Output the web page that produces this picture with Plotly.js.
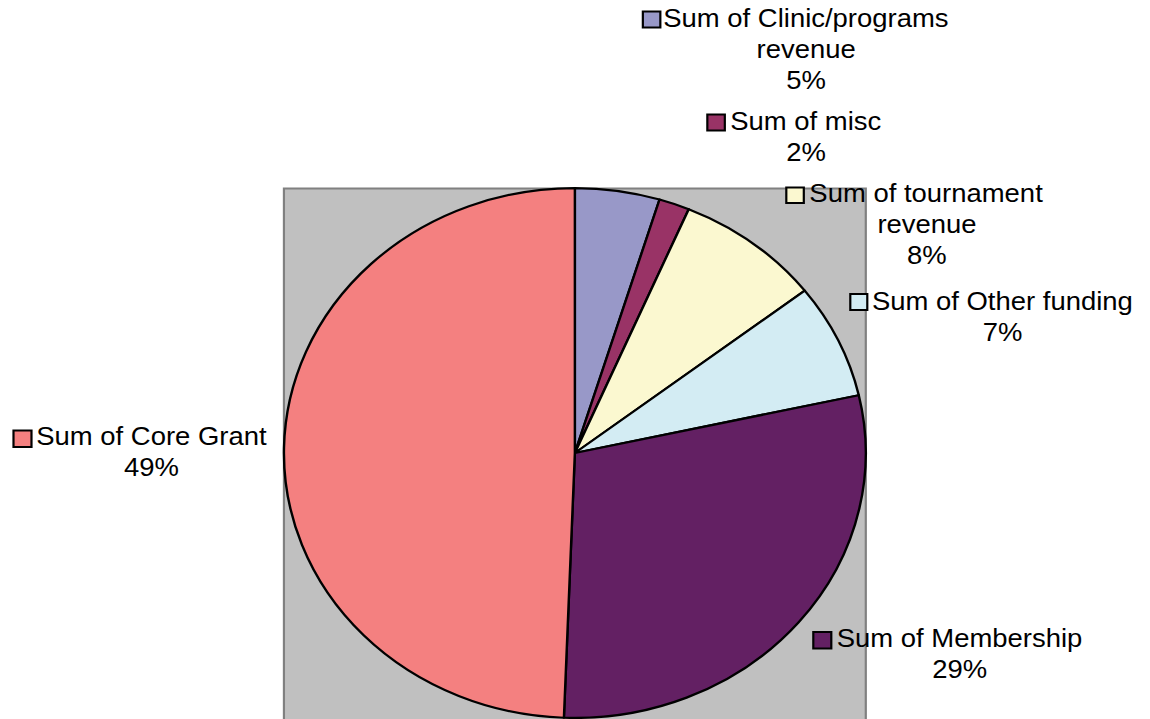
<!DOCTYPE html>
<html>
<head>
<meta charset="utf-8">
<script src="https://cdn.plot.ly/plotly-3.0.1.min.js"></script>
<style>
  html, body { margin: 0; padding: 0; background: #ffffff; overflow: hidden; }
  #wrap { width: 1150px; height: 719px; overflow: hidden; position: relative; }
  #chart { position: absolute; left: 0; top: 0; transform-origin: 0 0; }
</style>
</head>
<body>
<div id="wrap"><div id="chart"></div></div>
<script>
// ---- data (clockwise from 12 o'clock) ----
const categories = [
  "Sum of Clinic/programs revenue",
  "Sum of misc",
  "Sum of tournament revenue",
  "Sum of Other funding",
  "Sum of Membership",
  "Sum of Core Grant"
];
const shares = [4.7, 1.7, 8.1, 7.0, 29.1, 49.4];
const labelLines = [
  ["Sum of Clinic/programs", "revenue"],
  ["Sum of misc"],
  ["Sum of tournament", "revenue"],
  ["Sum of Other funding"],
  ["Sum of Membership"],
  ["Sum of Core Grant"]
];

// ---- styles / layout positions ----
const colors = ["#9898C8", "#993366", "#FBF8D0", "#D3ECF3", "#632063", "#F48080"];
const SX = 291 / 265;            // horizontal stretch of the original picture
const H = 719;
const W = 1150 / SX;
const FONT = "Liberation Sans, Arial, sans-serif";
const FS = 25;
const LINE = 31;

// label placement in picture pixels: text centre x, first baseline y, key square box
const labelPos = [
  {cx: 806, base: 26.7, sq: [643, 11.5, 660.5, 27.5]},
  {cx: 806, base: 129.3, sq: [707.5, 114.5, 725, 130.5]},
  {cx: 927, base: 201.7, sq: [786.5, 187.5, 804, 203]},
  {cx: 1003, base: 310, sq: [850.5, 294, 867.5, 310]},
  {cx: 960, base: 647, sq: [813.5, 632, 831.5, 648.5]},
  {cx: 152, base: 445, sq: [13.5, 430.5, 31.5, 447]}
];

function px(x) { return (x / SX) / W; }
function py(y) { return 1 - y / H; }

const total = shares.reduce((a, b) => a + b, 0);

const cxPie = 575 / SX, cyPie = 453, R = 265;

const trace = {
  type: "pie",
  labels: categories,
  values: shares,
  sort: false,
  direction: "clockwise",
  rotation: 0,
  textinfo: "none",
  hoverinfo: "none",
  marker: { colors: colors, line: { color: "#000000", width: 2.2 } },
  domain: {
    x: [(cxPie - R) / W, (cxPie + R) / W],
    y: [(H - cyPie - R) / H, (H - cyPie + R) / H]
  },
  showlegend: false
};

const shapes = [{
  type: "rect", xref: "paper", yref: "paper", layer: "below",
  x0: px(284), x1: px(866), y0: -0.05, y1: py(188.5),
  fillcolor: "#C0C0C0", line: { color: "#808080", width: 2 }
}];
const annotations = [];

categories.forEach((c, i) => {
  const p = labelPos[i];
  const lines = labelLines[i].concat([Math.round(shares[i] / total * 100) + "%"]);
  lines.forEach((t, k) => {
    annotations.push({
      xref: "paper", yref: "paper",
      x: px(p.cx), y: py(p.base + k * LINE - 8.7),
      xanchor: "center", yanchor: "middle",
      text: t, showarrow: false,
      font: { family: FONT, size: FS, color: "#000000" }
    });
  });
  shapes.push({
    type: "rect", xref: "paper", yref: "paper", layer: "above",
    x0: px(p.sq[0]), x1: px(p.sq[2]), y0: py(p.sq[3]), y1: py(p.sq[1]),
    fillcolor: colors[i], line: { color: "#000000", width: 2 }
  });
});

const layout = {
  width: W, height: H,
  margin: { l: 0, r: 0, t: 0, b: 0, pad: 0 },
  paper_bgcolor: "#ffffff",
  plot_bgcolor: "#ffffff",
  showlegend: false,
  shapes: shapes,
  annotations: annotations,
  font: { family: FONT }
};

const el = document.getElementById("chart");
el.style.transform = "scaleX(" + SX + ")";
Plotly.newPlot(el, [trace], layout, { staticPlot: true, displayModeBar: false });
</script>
</body>
</html>
